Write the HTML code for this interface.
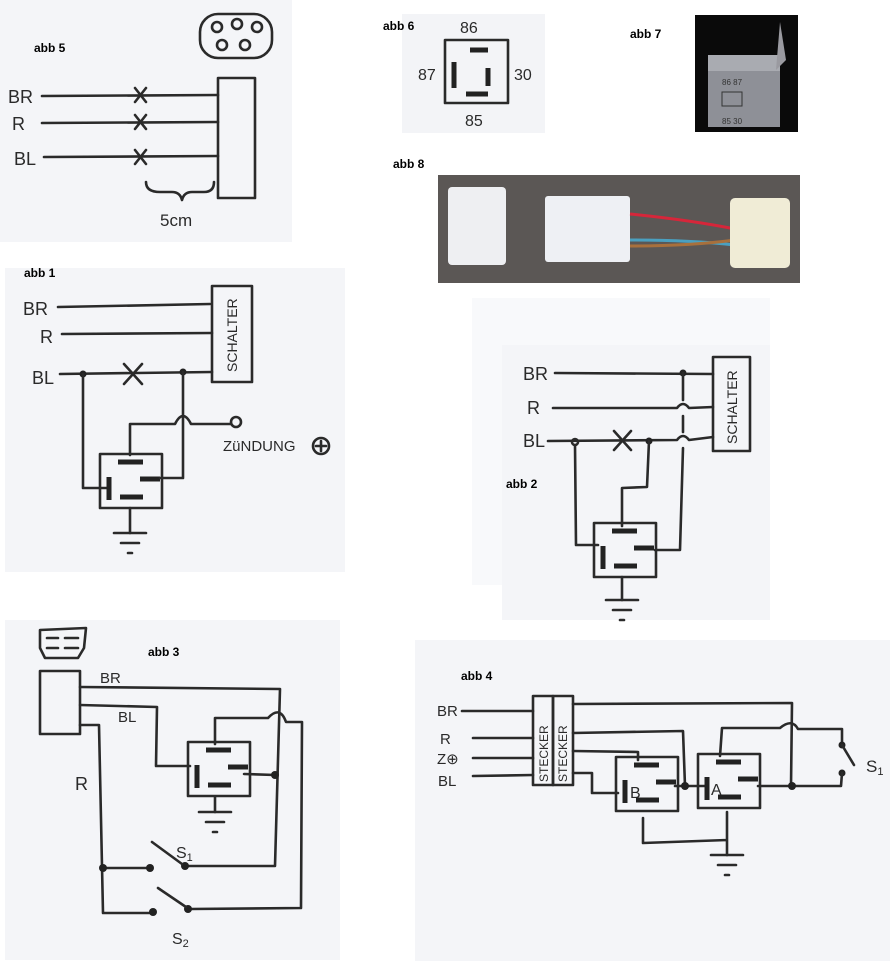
<!DOCTYPE html>
<html><head><meta charset="utf-8"><style>
html,body{margin:0;padding:0;background:#fff;}
svg{display:block;}
.l{fill:none;stroke:#2a2a2a;stroke-width:2.6;stroke-linecap:round;stroke-linejoin:round;}
.b{stroke:#222;stroke-width:5;stroke-linecap:butt;fill:none;}
.h{font-family:"Liberation Sans",sans-serif;font-size:18px;fill:#2a2a2a;}
.t{font-family:"Liberation Sans",sans-serif;font-weight:bold;font-size:12px;fill:#000;}
</style></head><body>
<svg width="895" height="961" viewBox="0 0 895 961" xmlns="http://www.w3.org/2000/svg">
<defs>
<g id="relay">
<rect class="l" x="0" y="0" width="62" height="54"/>
<line class="b" x1="18" y1="8" x2="43" y2="8"/>
<line class="b" x1="9" y1="23" x2="9" y2="46"/>
<line class="b" x1="40" y1="25" x2="60" y2="25"/>
<line class="b" x1="20" y1="43" x2="43" y2="43"/>
</g>
<g id="gnd">
<line class="l" x1="-16" y1="0" x2="16" y2="0"/>
<line class="l" x1="-9" y1="10" x2="9" y2="10"/>
<line class="l" x1="-2" y1="20" x2="2" y2="20"/>
</g>
</defs>
<!-- paper panels -->
<rect x="0" y="0" width="292" height="242" fill="#f4f5f8"/>
<rect x="402" y="14" width="143" height="119" fill="#f3f4f7"/>
<rect x="5" y="268" width="340" height="304" fill="#f4f5f8"/>
<rect x="472" y="298" width="298" height="287" fill="#f8f9fb"/>
<rect x="502" y="345" width="268" height="275" fill="#f4f5f8"/>
<rect x="5" y="620" width="335" height="340" fill="#f4f5f8"/>
<rect x="415" y="640" width="475" height="321" fill="#f4f5f8"/>

<!-- abb5 -->
<text class="t" x="34" y="52">abb 5</text>
<rect class="l" x="200" y="14" width="72" height="44" rx="18"/>
<circle class="l" cx="217" cy="27" r="5"/><circle class="l" cx="237" cy="24" r="5"/><circle class="l" cx="257" cy="27" r="5"/>
<circle class="l" cx="222" cy="45" r="5"/><circle class="l" cx="245" cy="45" r="5"/>
<text class="h" x="8" y="103">BR</text><text class="h" x="12" y="130">R</text><text class="h" x="14" y="165">BL</text>
<path class="l" d="M42 96 L218 95 M42 123 L218 122 M44 157 L218 156"/>
<path class="l" d="M135 88 L146 102 M146 88 L135 102 M135 115 L146 129 M146 115 L135 129 M135 150 L146 164 M146 150 L135 164"/>
<rect class="l" x="218" y="78" width="37" height="120"/>
<path class="l" d="M146 182 Q146 192 160 192 L172 192 Q180 192 182 200 Q184 192 192 192 L204 192 Q214 192 214 182"/>
<text class="h" x="160" y="226" style="font-size:17px">5cm</text>

<!-- abb6 -->
<text class="t" x="383" y="30">abb 6</text>
<rect class="l" x="445" y="40" width="63" height="63"/>
<line class="b" x1="470" y1="50" x2="488" y2="50"/>
<line class="b" x1="454" y1="62" x2="454" y2="88"/>
<line class="b" x1="488" y1="68" x2="488" y2="86"/>
<line class="b" x1="466" y1="94" x2="488" y2="94"/>
<text class="h" x="460" y="33" style="font-size:16px">86</text>
<text class="h" x="418" y="80" style="font-size:16px">87</text>
<text class="h" x="514" y="80" style="font-size:16px">30</text>
<text class="h" x="465" y="126" style="font-size:16px">85</text>

<!-- abb7 -->
<text class="t" x="630" y="38">abb 7</text>
<rect x="695" y="15" width="103" height="117" fill="#0a0a0a"/>
<rect x="708" y="55" width="72" height="72" fill="#8e9097"/>
<rect x="708" y="55" width="72" height="16" fill="#a9abb1"/>
<path d="M780 22 L786 60 L776 70 Z" fill="#9a9aa0"/>
<rect x="722" y="92" width="20" height="14" fill="none" stroke="#333" stroke-width="1"/>
<text x="722" y="85" font-family="Liberation Sans" font-size="8" fill="#333">86 87</text>
<text x="722" y="124" font-family="Liberation Sans" font-size="8" fill="#333">85 30</text>

<!-- abb8 -->
<text class="t" x="393" y="168">abb 8</text>
<rect x="438" y="175" width="362" height="108" fill="#5b5755"/>
<rect x="448" y="187" width="58" height="78" rx="4" fill="#eeeff2"/>
<rect x="545" y="196" width="85" height="66" rx="3" fill="#eef0f4"/>
<path d="M630 214 Q690 220 735 229" stroke="#d6263a" stroke-width="3" fill="none"/>
<path d="M630 240 Q690 240 735 245" stroke="#4aa0c0" stroke-width="3" fill="none"/>
<path d="M630 246 Q690 246 735 240" stroke="#a8703c" stroke-width="3" fill="none"/>
<rect x="730" y="198" width="60" height="70" rx="5" fill="#f0ecd6"/>

<!-- abb1 -->
<text class="t" x="24" y="277">abb 1</text>
<text class="h" x="23" y="315">BR</text><text class="h" x="40" y="343">R</text><text class="h" x="32" y="384">BL</text>
<path class="l" d="M58 307 L210 304 M62 334 L212 333 M60 374 L212 372"/>
<rect class="l" x="212" y="286" width="40" height="96"/>
<text class="h" transform="translate(237 372) rotate(-90)" style="font-size:14px">SCHALTER</text>
<circle cx="83" cy="374" r="3.5" fill="#222"/><circle cx="183" cy="372" r="3.5" fill="#222"/>
<path class="l" d="M124 364 L142 384 M142 364 L124 384"/>
<path class="l" d="M83 374 L83 488 L108 488"/>
<use href="#relay" x="100" y="454"/>
<path class="l" d="M130 455 L130 424 L175 424 Q183 408 191 424 L231 424"/>
<circle class="l" cx="236" cy="422" r="5" fill="#fff"/>
<path class="l" d="M160 478 L183 478 L183 372"/>
<path class="l" d="M130 508 L130 533"/><use href="#gnd" x="130" y="533"/>
<text class="h" x="223" y="451" style="font-size:15px">ZüNDUNG</text>
<circle class="l" cx="321" cy="446" r="8"/><path class="l" d="M321 441 L321 451 M316 446 L326 446"/>

<!-- abb2 -->
<text class="t" x="506" y="488">abb 2</text>
<text class="h" x="523" y="380">BR</text><text class="h" x="527" y="414">R</text><text class="h" x="523" y="447">BL</text>
<path class="l" d="M555 373 L713 374 M553 408 L677 408 Q683 400 689 408 L713 407 M548 441 L677 440 Q683 432 689 440 L713 437"/>
<rect class="l" x="713" y="357" width="37" height="94"/>
<text class="h" transform="translate(737 444) rotate(-90)" style="font-size:14px">SCHALTER</text>
<circle cx="683" cy="373" r="3.5" fill="#222"/>
<path class="l" d="M683 373 L683 400 M683 416 L683 432 M683 448 L680 550 L655 550"/>
<circle class="l" cx="575" cy="442" r="3" fill="#fff"/><circle cx="649" cy="441" r="3.5" fill="#222"/>
<path class="l" d="M614 431 L631 450 M631 431 L614 450"/>
<path class="l" d="M575 445 L576 545 L598 545"/>
<path class="l" d="M622 526 L622 488 L647 487 L649 441"/>
<use href="#relay" x="594" y="523"/>
<path class="l" d="M622 577 L622 600"/><use href="#gnd" x="622" y="600"/>

<!-- abb3 -->
<text class="t" x="148" y="656">abb 3</text>
<path class="l" d="M40 630 L86 628 L84 648 L78 658 L45 658 L40 648 Z"/>
<path class="l" d="M47 638 L58 638 M65 638 L78 638 M47 648 L58 648 M65 648 L78 648"/>
<rect class="l" x="40" y="671" width="40" height="63"/>
<text class="h" x="100" y="683" style="font-size:15px">BR</text>
<text class="h" x="118" y="722" style="font-size:15px">BL</text>
<text class="h" x="75" y="790" style="font-size:18px">R</text>
<path class="l" d="M80 687 L280 689 L275 866 L185 866"/>
<path class="l" d="M80 705 L157 707 L156 766 L190 766"/>
<use href="#relay" x="188" y="742"/>
<path class="l" d="M215 744 L215 718 L268 718 Q280 705 286 722 L302 722 L301 908 L190 909"/>
<path class="l" d="M244 774 L275 775"/><circle cx="275" cy="775" r="4" fill="#222"/>
<path class="l" d="M215 797 L215 812"/><use href="#gnd" x="215" y="812"/>
<path class="l" d="M80 725 L99 725 L103 913 L153 913 M103 868 L150 868"/>
<circle cx="103" cy="868" r="4" fill="#222"/>
<circle cx="150" cy="868" r="4" fill="#222"/><circle cx="185" cy="866" r="4" fill="#222"/>
<circle cx="153" cy="912" r="4" fill="#222"/><circle cx="188" cy="909" r="4" fill="#222"/>
<path class="l" d="M152 842 L182 864 M158 888 L186 907"/>
<text class="h" x="176" y="858" style="font-size:16px">S<tspan font-size="11" dy="3">1</tspan></text>
<text class="h" x="172" y="944" style="font-size:16px">S<tspan font-size="11" dy="3">2</tspan></text>

<!-- abb4 -->
<text class="t" x="461" y="680">abb 4</text>
<text class="h" x="437" y="716" style="font-size:15px">BR</text>
<text class="h" x="440" y="744" style="font-size:15px">R</text>
<text class="h" x="437" y="764" style="font-size:15px">Z⊕</text>
<text class="h" x="438" y="786" style="font-size:15px">BL</text>
<path class="l" d="M462 711 L533 711 M473 738 L533 738 M473 758 L533 758 M473 776 L533 775"/>
<rect class="l" x="533" y="696" width="20" height="89"/><rect class="l" x="553" y="696" width="20" height="89"/>
<text class="h" transform="translate(548 782) rotate(-90)" style="font-size:12px">STECKER</text>
<text class="h" transform="translate(567 782) rotate(-90)" style="font-size:12px">STECKER</text>
<path class="l" d="M573 704 L792 703 L791 786"/>
<path class="l" d="M573 733 L683 731 L685 786 L705 786 M675 786 L685 786"/>
<circle cx="685" cy="786" r="4" fill="#222"/>
<path class="l" d="M573 751 L638 752 L638 760"/>
<path class="l" d="M573 773 L592 773 L592 793 L618 793"/>
<use href="#relay" x="616" y="757"/>
<text class="h" x="630" y="798" style="font-size:16px">B</text>
<use href="#relay" x="698" y="754"/>
<text class="h" x="711" y="795" style="font-size:16px">A</text>
<path class="l" d="M720 756 L722 728 L780 728 Q792 718 798 729 L842 729 L842 745"/>
<circle cx="842" cy="745" r="3.5" fill="#222"/><circle cx="842" cy="773" r="3.5" fill="#222"/>
<path class="l" d="M842 745 L854 765 M842 773 L841 786 L792 786 L758 786"/>
<circle cx="792" cy="786" r="4" fill="#222"/>
<text class="h" x="866" y="772" style="font-size:17px">S<tspan font-size="11" dy="3">1</tspan></text>
<path class="l" d="M643 818 L643 843 L727 840 M727 812 L727 855"/>
<use href="#gnd" x="727" y="855"/>
</svg>
</body></html>
